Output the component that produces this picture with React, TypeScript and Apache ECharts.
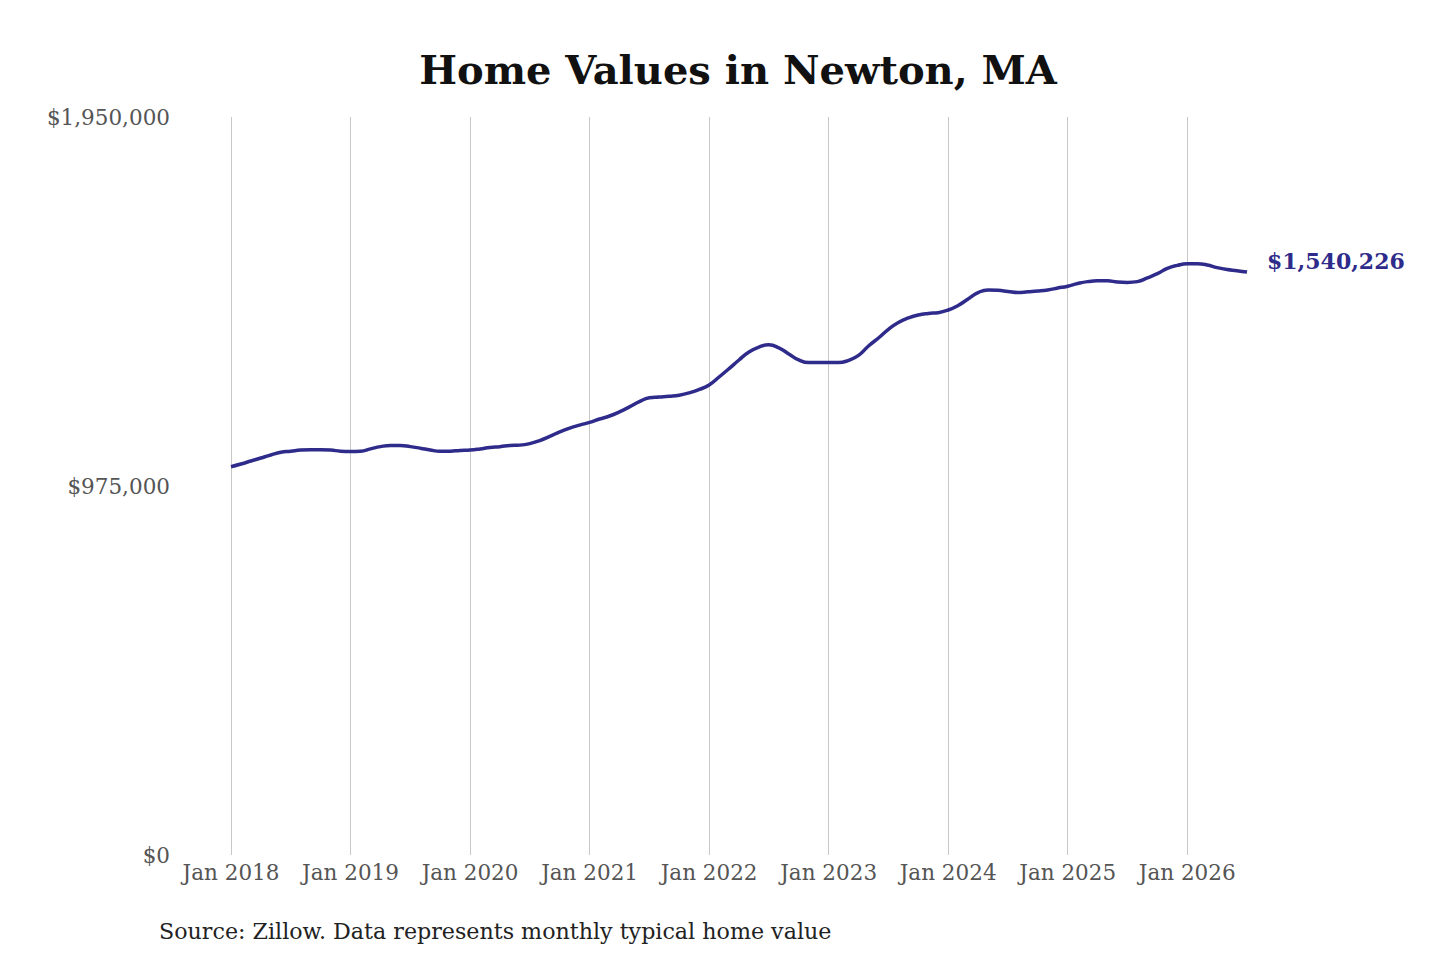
import React, { useEffect, useRef } from 'react';
import * as echarts from 'echarts';

// Zillow typical home value, Newton MA, monthly (Jan 2018 - Jul 2026)
const years = [2018, 2019, 2020, 2021, 2022, 2023, 2024, 2025, 2026];
const monthNames = ['Jan', 'Feb', 'Mar', 'Apr', 'May', 'Jun', 'Jul', 'Aug', 'Sep', 'Oct', 'Nov', 'Dec'];

const v2018 = [1026000, 1033000, 1041000, 1049000, 1057000, 1064000, 1067000, 1070000, 1071000, 1071000, 1070000, 1067000];
const v2019 = [1066000, 1067000, 1073000, 1079000, 1082000, 1082000, 1079000, 1075000, 1070000, 1067000, 1067000, 1069000];
const v2020 = [1070000, 1073000, 1077000, 1079000, 1082000, 1083000, 1087000, 1095000, 1106000, 1118000, 1128000, 1136000];
const v2021 = [1143000, 1152000, 1160000, 1171000, 1184000, 1198000, 1208000, 1210000, 1212000, 1215000, 1221000, 1230000];
const v2022 = [1242000, 1263000, 1285000, 1308000, 1329000, 1342000, 1348000, 1340000, 1324000, 1308000, 1301000, 1301000];
const v2023 = [1301000, 1301000, 1307000, 1320000, 1345000, 1366000, 1389000, 1407000, 1419000, 1427000, 1431000, 1433000];
const v2024 = [1440000, 1452000, 1469000, 1486000, 1493000, 1492000, 1489000, 1486000, 1488000, 1490000, 1493000, 1498000];
const v2025 = [1503000, 1510000, 1515000, 1517000, 1517000, 1514000, 1513000, 1515000, 1525000, 1536000, 1550000, 1558000];
const v2026 = [1562000, 1562000, 1559000, 1552000, 1547000, 1544000, 1540226];

const values = [...v2018, ...v2019, ...v2020, ...v2021, ...v2022, ...v2023, ...v2024, ...v2025, ...v2026];
const categories = values.map((_, i) => `${monthNames[i % 12]} ${years[Math.floor(i / 12)]}`);

const yTicks = [0, 975000, 1950000];
const titleText = 'Home Values in Newton, MA';
const sourceText = 'Source: Zillow. Data represents monthly typical home value';

const FONT = '"DejaVu Serif", serif';
const LINE_COLOR = '#2e2b8a';

const App: React.FC = () => {
  const chartRef = useRef<HTMLDivElement>(null);

  useEffect(() => {
    if (!chartRef.current) return;
    const chart = echarts.init(chartRef.current, undefined, { renderer: 'svg' });

    const option: echarts.EChartsOption = {
      animation: false,
      backgroundColor: '#ffffff',
      textStyle: { fontFamily: FONT },
      grid: {
        left: 231,
        right: 193,
        top: 117,
        bottom: 105,
      },
      graphic: [
        {
          type: 'text',
          x: 738,
          y: 69,
          style: {
            text: titleText,
            fontFamily: FONT,
            fontWeight: 'bold',
            fontSize: 40,
            fill: '#111111',
            textAlign: 'center',
            textVerticalAlign: 'middle',
          },
        },
        {
          type: 'text',
          x: 159,
          y: 931,
          style: {
            text: sourceText,
            fontFamily: FONT,
            fontSize: 22.2,
            fill: '#222222',
            textAlign: 'left',
            textVerticalAlign: 'middle',
          },
        },
      ],
      xAxis: {
        type: 'category',
        data: categories,
        boundaryGap: false,
        axisLine: { show: false },
        axisTick: { show: false },
        axisLabel: {
          interval: (i: number) => i % 12 === 0,
          color: '#555555',
          fontFamily: FONT,
          fontSize: 21.5,
          margin: 6,
        },
        splitLine: {
          show: true,
          interval: (i: number) => i % 12 === 0,
          lineStyle: { color: '#c8c8c8', width: 1 },
        },
      },
      yAxis: {
        type: 'value',
        min: 0,
        max: yTicks[yTicks.length - 1],
        interval: yTicks[1],
        axisLine: { show: false },
        axisTick: { show: false },
        splitLine: { show: false },
        axisLabel: {
          color: '#555555',
          fontFamily: FONT,
          fontSize: 21.5,
          margin: 61,
          formatter: (v: number) => '$' + v.toLocaleString('en-US'),
        },
      },
      series: [
        {
          type: 'line',
          name: 'Home value',
          data: values,
          smooth: true,
          symbol: 'none',
          lineStyle: { color: LINE_COLOR, width: 3.5 },
          endLabel: {
            show: true,
            formatter: (p: any) => '$' + Number(p.value).toLocaleString('en-US'),
            color: LINE_COLOR,
            fontFamily: FONT,
            fontWeight: 'bold',
            fontSize: 22,
            distance: 20,
            offset: [0, -11],
          },
        },
      ],
    };

    chart.setOption(option);

    return () => {
      chart.dispose();
    };
  }, []);

  return (
    <div
      ref={chartRef}
      style={{ position: 'absolute', left: 0, top: 0, width: '1440px', height: '960px' }}
    />
  );
};

export default App;
